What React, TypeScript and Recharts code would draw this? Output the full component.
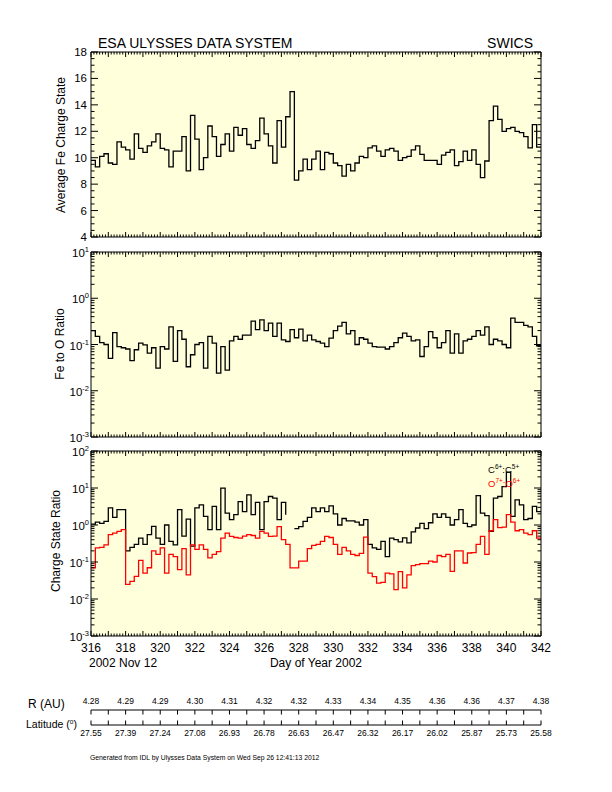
import React from 'react';
import { LineChart, Line, XAxis, YAxis, CartesianGrid } from 'recharts';

// 6-hour bins starting at day 316.0; last value closes the final step at 342
const FE_CHARGE = [
  9.8, 9.3, 10.1, 10.3, 9.6, 9.5, 11.2, 10.8, 10.6, 9.9, 11.8, 10.7,
  10.4, 10.9, 11.2, 11.8, 10.7, 10.6, 9.3, 10.5, 10.5, 11.6, 9.0, 13.2,
  11.4, 9.1, 10.0, 12.4, 11.6, 10.1, 11.0, 11.8, 10.5, 12.3, 11.7, 12.2,
  11.0, 10.7, 11.3, 13.0, 11.8, 10.9, 9.6, 12.8, 10.8, 13.1, 15.0, 8.3,
  9.0, 9.9, 9.1, 9.9, 10.5, 9.1, 10.4, 10.3, 9.6, 9.4, 8.6, 9.5,
  9.0, 9.6, 10.1, 10.0, 10.75, 10.9, 10.5, 10.1, 10.6, 10.7, 10.5, 9.8,
  10.0, 10.1, 10.6, 10.9, 10.25, 9.8, 9.8, 9.8, 9.5, 10.2, 10.4, 10.6,
  9.4, 9.7, 10.5, 9.8, 10.6, 9.5, 8.5, 9.75, 12.8, 13.9, 12.9, 12.0,
  12.2, 12.3, 12.0, 11.9, 11.6, 10.75, 12.5, 10.8, 10.8,
];

const FE_O = [
  0.2, 0.15, 0.11, 0.1, 0.05, 0.18, 0.09, 0.085, 0.08, 0.045, 0.077, 0.107,
  0.098, 0.065, 0.085, 0.031, 0.09, 0.08, 0.24, 0.043, 0.2, 0.13, 0.033, 0.06,
  0.1, 0.11, 0.031, 0.15, 0.107, 0.024, 0.09, 0.028, 0.12, 0.15, 0.13, 0.16,
  0.16, 0.32, 0.21, 0.34, 0.2, 0.29, 0.15, 0.29, 0.126, 0.116, 0.21, 0.14,
  0.215, 0.12, 0.16, 0.126, 0.116, 0.107, 0.09, 0.137, 0.2, 0.25, 0.3, 0.17,
  0.2, 0.1, 0.14, 0.13, 0.107, 0.09, 0.088, 0.088, 0.08, 0.09, 0.11, 0.14,
  0.176, 0.15, 0.12, 0.126, 0.055, 0.09, 0.19, 0.14, 0.085, 0.11, 0.2, 0.065,
  0.17, 0.065, 0.12, 0.13, 0.15, 0.2, 0.16, 0.24, 0.1, 0.13, 0.12, 0.1,
  0.085, 0.37, 0.3, 0.3, 0.26, 0.24, 0.15, 0.094, 0.09,
];

const C6_C5 = [
  1.05, 1.2, 1.1, 1.25, 2.9, 1.6, 2.6, 2.6, 0.2, 0.25, 0.3, 0.44,
  0.3, 0.55, 0.92, 0.44, 0.3, 1.0, 0.36, 0.29, 2.6, 0.5, 1.45, 0.27,
  2.9, 3.5, 1.7, 0.75, 3.2, 0.75, 9.9, 2.1, 1.4, 1.9, 4.3, 2.3,
  6.5, 1.9, 4.1, 0.75, 4.3, 5.9, 5.3, 1.4, 4.1, 1.9, null, 0.8,
  0.9, 1.25, 1.6, 2.9, 2.3, 2.9, 2.3, 3.3, 2.0, 1.0, 1.5, 1.3,
  1.3, 1.2, 1.0, 1.39, 0.3, 0.24, 0.22, 0.36, 0.14, 0.44, 0.4, 0.35,
  0.45, 0.33, 0.65, 0.83, 1.1, 0.8, 1.15, 2.0, 1.6, 2.0, 1.6, 1.0,
  1.39, 2.6, 1.1, 0.9, 1.0, 6.2, 2.1, 1.8, 0.67, 5.3, 5.9, 10.9,
  27, 1.7, 4.8, 3.5, 1.39, 1.5, 3.2, 2.3, 2.3,
];

const O7_O6 = [
  0.07, 0.24, 0.25, 0.29, 0.55, 0.6, 0.67, 0.75, 0.025, 0.03, 0.041, 0.11,
  0.05, 0.07, 0.2, 0.16, 0.24, 0.05, 0.16, 0.14, 0.062, 0.23, 0.045, 0.29,
  0.22, 0.29, 0.22, 0.13, 0.16, 0.19, 0.44, 0.6, 0.49, 0.46, 0.44, 0.5,
  0.55, 0.52, 0.44, 0.67, 0.6, 0.49, 0.5, 0.9, 0.4, 0.3, 0.069, 0.069,
  0.105, 0.105, 0.23, 0.28, 0.3, 0.36, 0.49, 0.46, 0.3, 0.16, 0.25, 0.2,
  0.16, 0.15, 0.17, 0.47, 0.05, 0.04, 0.027, 0.028, 0.05, 0.048, 0.018, 0.055,
  0.02, 0.045, 0.08, 0.085, 0.09, 0.09, 0.105, 0.1, 0.15, 0.14, 0.16, 0.056,
  0.2, 0.2, 0.094, 0.175, 0.18, 0.3, 0.49, 0.16, 0.7, 1.39, 0.85, 0.88,
  1.9, 1.2, 0.7, 0.75, 0.6, 0.55, 0.7, 0.44, 0.44,
];

const R_AU = ['4.28', '4.29', '4.29', '4.30', '4.31', '4.32', '4.32', '4.33', '4.34', '4.35', '4.36', '4.36', '4.37', '4.38'];
const LATITUDE = ['27.55', '27.39', '27.24', '27.08', '26.93', '26.78', '26.63', '26.47', '26.32', '26.17', '26.02', '25.87', '25.73', '25.58'];

const START_DAY = 316;
const END_DAY = 342;
const BIN = 0.25;

const FONT = '"Liberation Sans", Arial, Helvetica, sans-serif';
const BG = '#FFFFDC';

const rows = FE_CHARGE.map((fe, i) => ({
  day: START_DAY + i * BIN,
  fe,
  feo: FE_O[i],
  c: C6_C5[i],
  o: O7_O6[i],
}));

const stripRows = R_AU.map((r, i) => ({ day: START_DAY + i * 2, r, lat: LATITUDE[i] }));

const X_TICKS = Array.from({ length: (END_DAY - START_DAY) * 6 + 1 }, (_, i) => START_DAY + i / 6);
const DAY_TICKS = Array.from({ length: END_DAY - START_DAY + 1 }, (_, i) => START_DAY + i);
const FE_TICKS = Array.from({ length: 29 }, (_, i) => 4 + i * 0.5);
const logTicks = (lo: number, hi: number) => {
  const t: number[] = [];
  for (let e = lo; e < hi; e++) for (let k = 1; k < 10; k++) t.push(k * Math.pow(10, e));
  t.push(Math.pow(10, hi));
  return t;
};

const isInt = (v: number) => Math.abs(v - Math.round(v)) < 1e-6;

const xTick = (side: 'top' | 'bottom', labels: boolean) => (p: any) => {
  const v = p.payload.value;
  const major = isInt(v);
  const dir = side === 'top' ? 1 : -1;
  const day = Math.round(v);
  return (
    <g>
      <line x1={p.x} y1={p.y} x2={p.x} y2={p.y + dir * (major ? 5 : 2.5)} stroke="#000" />
      {labels && major && day % 2 === 0 && (
        <text x={p.x} y={p.y + 15.5} textAnchor="middle" fontSize={12} fontFamily={FONT} fill="#000">{day}</text>
      )}
    </g>
  );
};

const yTick = (side: 'left' | 'right', kind: 'lin' | 'log') => (p: any) => {
  const v = p.payload.value;
  const exp = Math.log10(v);
  const major = kind === 'lin' ? isInt(v / 2) : isInt(exp);
  const dir = side === 'left' ? 1 : -1;
  let label = null;
  if (side === 'left' && major) {
    label = kind === 'lin' ? (
      <text x={p.x - 4} y={p.y + 4} textAnchor="end" fontSize={11.5} fontFamily={FONT} fill="#000">{v}</text>
    ) : (
      <text x={p.x - 2} y={p.y + 5} textAnchor="end" fontSize={11.5} fontFamily={FONT} fill="#000">
        10<tspan dy={-5} fontSize={7.5}>{Math.round(exp)}</tspan>
      </text>
    );
  }
  return (
    <g>
      <line x1={p.x} y1={p.y} x2={p.x + dir * (major ? 7 : 3.5)} y2={p.y} stroke="#000" />
      {label}
    </g>
  );
};

const stripTick = (side: 'top' | 'bottom') => (p: any) => {
  const day = Math.round(p.payload.value);
  const dir = side === 'top' ? 1 : -1;
  const idx = (day - START_DAY) / 2;
  const text = isInt(idx) ? (side === 'top' ? stripRows[idx].r : stripRows[idx].lat) : null;
  return (
    <g>
      <line x1={p.x} y1={p.y} x2={p.x} y2={p.y + dir * 4.5} stroke="#000" />
      {text && (
        <text x={p.x} y={side === 'top' ? p.y - 6 : p.y + 11} textAnchor="middle" fontSize={8.5} fontFamily={FONT} fill="#000">{text}</text>
      )}
    </g>
  );
};

interface PanelProps {
  top: number;
  kind: 'lin' | 'log';
  domain: [number, number];
  yTicks: number[];
  series: { key: string; color: string }[];
  xLabels?: boolean;
}

function Panel({ top, kind, domain, yTicks, series, xLabels = false }: PanelProps) {
  const axisCommon = { tickLine: false, tickSize: 0, tickMargin: 0, interval: 0 as const, axisLine: { stroke: '#000' } };
  return (
    <div style={{ position: 'absolute', left: 0, top }}>
      <LineChart width={612} height={223} data={rows} margin={{ top: 8, right: 71, bottom: 0, left: 0 }}>
        <CartesianGrid horizontal={false} vertical={false} fill={BG} />
        <XAxis dataKey="day" type="number" domain={[START_DAY, END_DAY]} allowDataOverflow ticks={X_TICKS}
          height={30} tick={xTick('bottom', xLabels)} {...axisCommon} />
        <XAxis xAxisId="top" orientation="top" mirror dataKey="day" type="number" domain={[START_DAY, END_DAY]}
          allowDataOverflow ticks={X_TICKS} tick={xTick('top', false)} {...axisCommon} />
        <YAxis type="number" scale={kind === 'log' ? 'log' : 'linear'} domain={domain} allowDataOverflow
          ticks={yTicks} width={91} tick={yTick('left', kind)} {...axisCommon} />
        <YAxis yAxisId="right" orientation="right" mirror type="number" scale={kind === 'log' ? 'log' : 'linear'}
          domain={domain} allowDataOverflow ticks={yTicks} tick={yTick('right', kind)} {...axisCommon} />
        {series.map((s) => (
          <Line key={s.key} dataKey={s.key} type="stepAfter" stroke={s.color} strokeWidth={1.3}
            dot={false} activeDot={false} connectNulls={false} isAnimationActive={false} />
        ))}
      </LineChart>
    </div>
  );
}

export default function App() {
  return (
    <div style={{ position: 'absolute', left: 0, top: 0, width: 612, height: 792, background: '#fff', fontFamily: FONT }}>
      <Panel top={44} kind="lin" domain={[4, 18]} yTicks={FE_TICKS} series={[{ key: 'fe', color: '#000' }]} />
      <Panel top={244} kind="log" domain={[0.001, 10]} yTicks={logTicks(-3, 1)} series={[{ key: 'feo', color: '#000' }]} />
      <Panel top={443} kind="log" domain={[0.001, 100]} yTicks={logTicks(-3, 2)} xLabels
        series={[{ key: 'c', color: '#000' }, { key: 'o', color: '#FF0000' }]} />

      <div style={{ position: 'absolute', left: 0, top: 690 }}>
        <LineChart width={612} height={60} data={stripRows} margin={{ top: 20, right: 71, bottom: 25, left: 91 }}>
          <XAxis dataKey="day" type="number" domain={[START_DAY, END_DAY]} allowDataOverflow orientation="bottom" mirror
            ticks={DAY_TICKS} interval={0} tickLine={false} tickSize={0} tickMargin={0} axisLine={{ stroke: '#000' }}
            tick={stripTick('bottom')} />
          <XAxis xAxisId="top" dataKey="day" type="number" domain={[START_DAY, END_DAY]} allowDataOverflow orientation="top" mirror
            ticks={DAY_TICKS} interval={0} tickLine={false} tickSize={0} tickMargin={0} axisLine={{ stroke: '#000' }}
            tick={stripTick('top')} />
          <YAxis hide domain={[0, 1]} />
        </LineChart>
      </div>

      <svg width={612} height={792} style={{ position: 'absolute', left: 0, top: 0, pointerEvents: 'none' }} fontFamily={FONT}>
        <text x={98} y={48} fontSize={14}>ESA ULYSSES DATA SYSTEM</text>
        <text x={533} y={48} fontSize={14} textAnchor="end">SWICS</text>
        <text x={65} y={145} fontSize={12} textAnchor="middle" transform="rotate(-90 65 145)">Average Fe Charge State</text>
        <text x={64} y={344} fontSize={12} textAnchor="middle" transform="rotate(-90 64 344)">Fe to O Ratio</text>
        <text x={60} y={541} fontSize={12} textAnchor="middle" transform="rotate(-90 60 541)">Charge State Ratio</text>
        <text x={488} y={473} fontSize={9.5}>C<tspan dy={-4} fontSize={6.5}>6+</tspan><tspan dy={4}>:C</tspan><tspan dy={-4} fontSize={6.5}>5+</tspan></text>
        <text x={488} y={487} fontSize={9.5} fill="#FF0000">O<tspan dy={-4} fontSize={6.5}>7+</tspan><tspan dy={4}>:O</tspan><tspan dy={-4} fontSize={6.5}>6+</tspan></text>
        <text x={89} y={667} fontSize={12}>2002 Nov 12</text>
        <text x={316} y={667} fontSize={12} textAnchor="middle">Day of Year 2002</text>
        <text x={28} y={708} fontSize={12}>R (AU)</text>
        <text x={26} y={728} fontSize={10.5}>Latitude (<tspan dy={-4} fontSize={6.5}>o</tspan><tspan dy={4}>)</tspan></text>
        <text x={90} y={760} fontSize={6.8}>Generated from IDL by Ulysses Data System on Wed Sep 26 12:41:13 2012</text>
      </svg>
    </div>
  );
}
